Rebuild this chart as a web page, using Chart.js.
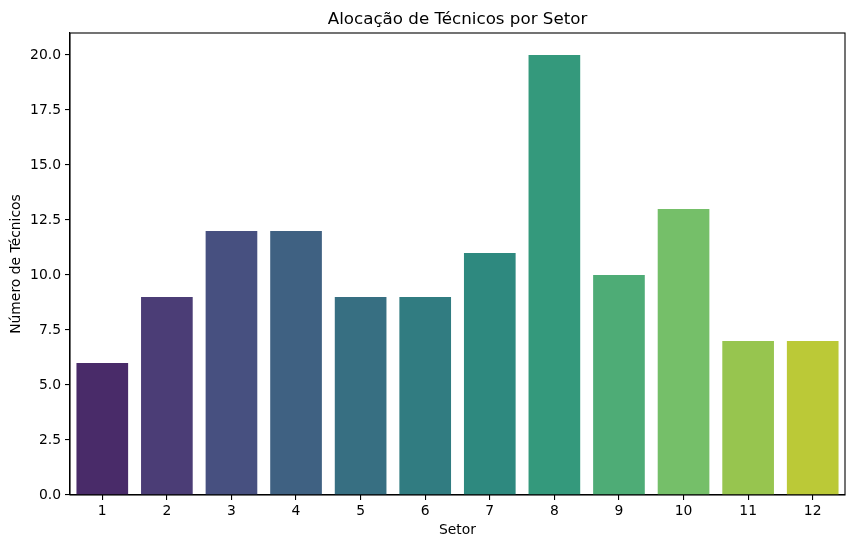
<!DOCTYPE html>
<html>
<head>
<meta charset="utf-8">
<script src="https://cdn.jsdelivr.net/npm/chart.js@4"></script>
<style>
  html, body { margin: 0; padding: 0; background: #fff; }
  #wrap { width: 855px; height: 548px; }
</style>
</head>
<body>
<div id="wrap"><canvas id="c" width="855" height="548"></canvas></div>
<script>
const categories = ["1","2","3","4","5","6","7","8","9","10","11","12"];
const technicians = [6, 9, 12, 12, 9, 9, 11, 20, 10, 13, 7, 7];
const yTickValues = [0, 2.5, 5, 7.5, 10, 12.5, 15, 17.5, 20];
const titleText = "Alocação de Técnicos por Setor";
const xTitle = "Setor";
const yTitle = "Número de Técnicos";

// viridis samples (seaborn palette, 12 colors) before desaturation
const viridisBase = [
  [72,33,115],[70,51,127],[62,74,137],[52,97,141],[43,117,142],[36,136,142],
  [31,152,139],[35,170,131],[62,188,116],[106,205,91],[155,216,60],[206,225,31]
];

function desaturate(rgb, prop) {
  let [r,g,b] = rgb.map(v => v/255);
  const mx = Math.max(r,g,b), mn = Math.min(r,g,b);
  const l = (mx+mn)/2;
  if (mx === mn) return `rgb(${rgb.join(',')})`;
  const d = mx - mn;
  let s = l > 0.5 ? d/(2-mx-mn) : d/(mx+mn);
  let h;
  if (mx === r) h = ((g-b)/d) % 6;
  else if (mx === g) h = (b-r)/d + 2;
  else h = (r-g)/d + 4;
  h /= 6; if (h < 0) h += 1;
  s *= prop;
  const q = l < 0.5 ? l*(1+s) : l+s-l*s;
  const p = 2*l - q;
  const hue2rgb = (t) => {
    if (t < 0) t += 1; if (t > 1) t -= 1;
    if (t < 1/6) return p + (q-p)*6*t;
    if (t < 1/2) return q;
    if (t < 2/3) return p + (q-p)*(2/3-t)*6;
    return p;
  };
  const out = [hue2rgb(h+1/3), hue2rgb(h), hue2rgb(h-1/3)].map(v => Math.round(v*255));
  return `rgb(${out.join(',')})`;
}
const barColors = viridisBase.map(c => desaturate(c, 0.75));

const FONT = "'DejaVu Sans', sans-serif";

const framePlugin = {
  id: 'frame',
  afterDraw(chart) {
    const {ctx, chartArea: a} = chart;
    ctx.save();
    ctx.strokeStyle = '#000';
    ctx.lineWidth = 1.1;
    ctx.strokeRect(a.left, a.top, a.right - a.left, a.bottom - a.top);
    ctx.fillStyle = '#000';
    ctx.font = `16.7px ${FONT}`;
    ctx.textAlign = 'center';
    ctx.textBaseline = 'alphabetic';
    ctx.fillText(titleText, (a.left + a.right)/2, 24);
    ctx.restore();
  }
};

new Chart(document.getElementById('c'), {
  type: 'bar',
  data: {
    labels: categories,
    datasets: [{
      data: technicians,
      backgroundColor: barColors,
      borderWidth: 0,
      categoryPercentage: 0.8,
      barPercentage: 1.0
    }]
  },
  options: {
    responsive: false,
    animation: false,
    devicePixelRatio: 1,
    layout: { padding: { top: 33, right: 10, left: 0, bottom: 0 } },
    plugins: { legend: { display: false }, tooltip: { enabled: false }, title: { display: false } },
    scales: {
      x: {
        type: 'category',
        offset: true,
        grid: { display: true, drawOnChartArea: false, offset: false, drawTicks: true, tickLength: 5, color: '#000', lineWidth: 1.1 },
        border: { display: true, color: '#000', width: 1.1 },
        ticks: { color: '#000', font: { family: FONT, size: 13.9 }, padding: 3, maxRotation: 0, autoSkip: false },
        title: { display: true, text: xTitle, color: '#000', font: { family: FONT, size: 13.9 }, padding: { top: 4, bottom: 9.6 } },
        afterFit(scale) { scale.height = 53; }
      },
      y: {
        type: 'linear',
        min: 0,
        max: 21,
        grid: { display: true, drawOnChartArea: false, drawTicks: true, tickLength: 5, color: '#000', lineWidth: 1.1 },
        border: { display: true, color: '#000', width: 1.1 },
        ticks: {
          color: '#000', font: { family: FONT, size: 13.9 }, padding: 4,
          callback: (v) => v.toFixed(1)
        },
        afterBuildTicks(scale) { scale.ticks = yTickValues.map(v => ({ value: v })); },
        title: { display: true, text: yTitle, color: '#000', font: { family: FONT, size: 13.9 }, padding: { top: 7.6, bottom: 4 } },
        afterFit(scale) { scale.width = 70; }
      }
    }
  },
  plugins: [framePlugin]
});
</script>
</body>
</html>
